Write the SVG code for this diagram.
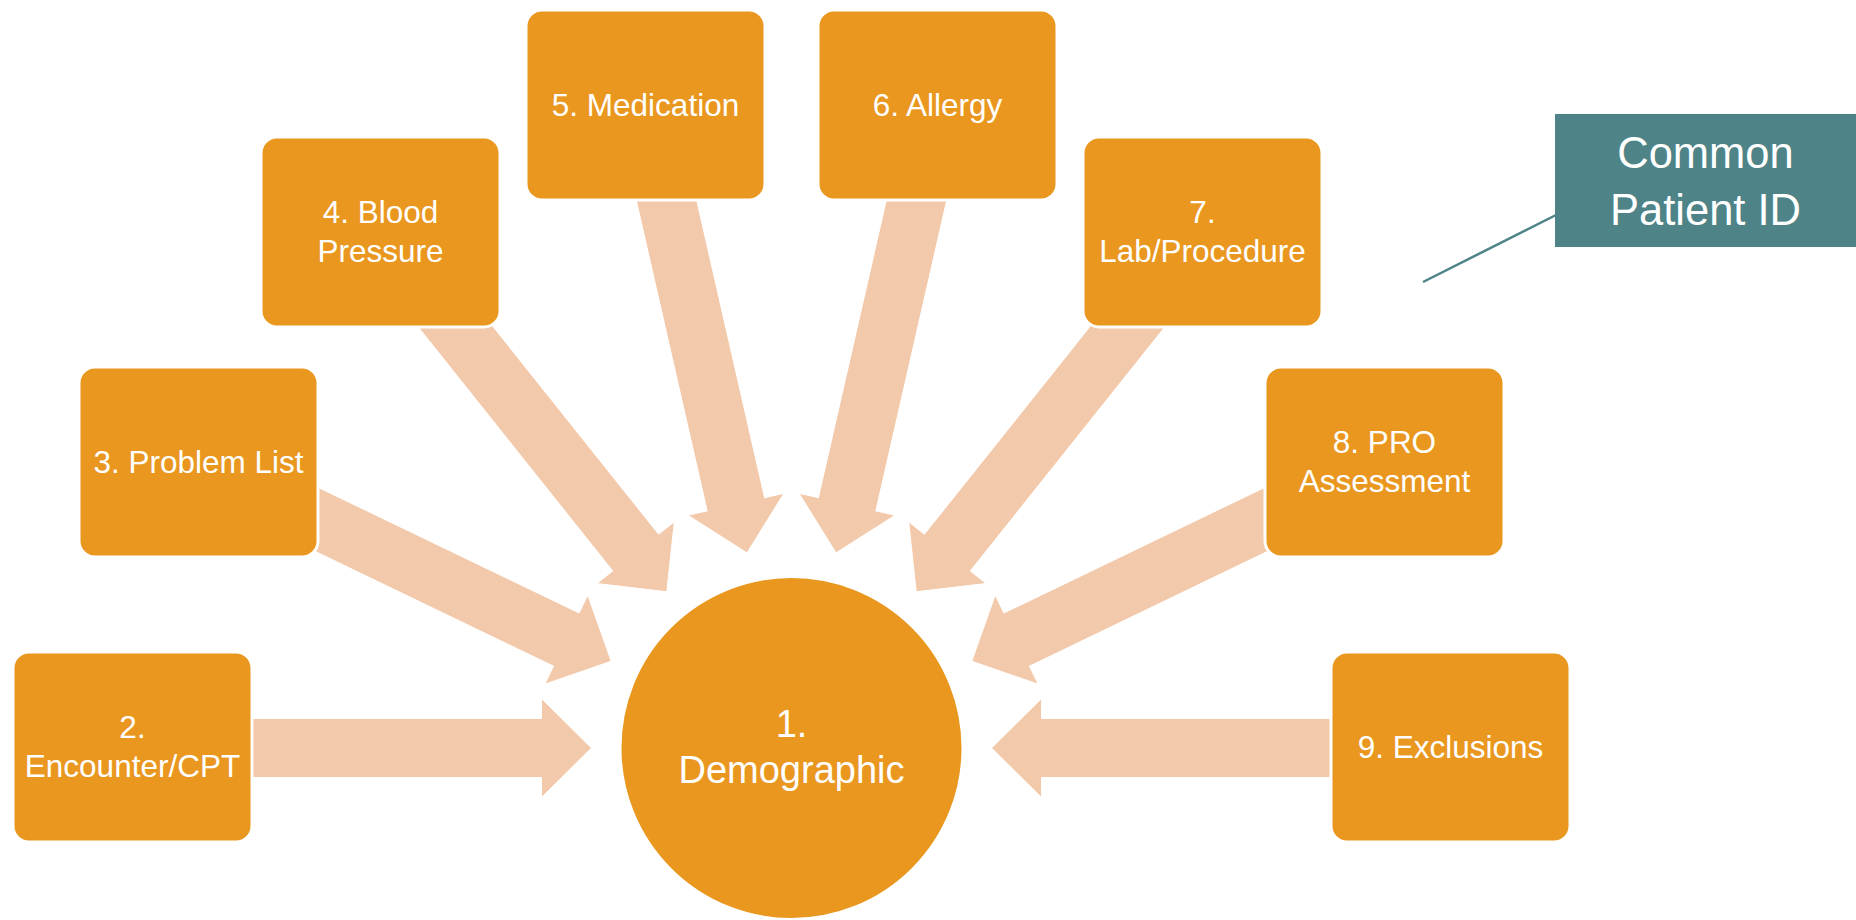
<svg xmlns="http://www.w3.org/2000/svg" width="1856" height="920" viewBox="0 0 1856 920">
  <style>
    .box { fill: #E9971F; stroke: #FFFFFF; stroke-width: 3; }
    .hub { fill: #E9971F; stroke: #FFFFFF; stroke-width: 2; }
    .arrow { fill: #F2C9AA; stroke: #FFFFFF; stroke-width: 1; }
    .lbl { font-family: "Liberation Sans", Arial, sans-serif; font-size: 31.5px; fill: #FFFFFF; text-anchor: middle; }
    .hubLbl { font-family: "Liberation Sans", Arial, sans-serif; font-size: 38px; fill: #FFFFFF; text-anchor: middle; }
    .callout { fill: #4E8387; }
    .calloutLbl { font-family: "Liberation Sans", Arial, sans-serif; font-size: 43.5px; fill: #FFFFFF; text-anchor: middle; }
  </style>
  <defs>
    <!-- block arrow pointing along +x with its tip at the origin; the tail tucks under the source box -->
    <polygon id="blockArrow" class="arrow" points="-375,-29.5 -50,-29.5 -50,-49.5 0,0 -50,49.5 -50,29.5 -375,29.5"/>
  </defs>
  <rect width="1856" height="920" fill="#FFFFFF"/>

  <!-- connectors: block arrows aimed at the hub, tips on a 200px ring -->
  <g id="connectors">
    <use href="#blockArrow" transform="translate(791.5,748) rotate(0) translate(-200,0)"/>
    <use href="#blockArrow" transform="translate(791.5,748) rotate(25.714) translate(-200,0)"/>
    <use href="#blockArrow" transform="translate(791.5,748) rotate(51.429) translate(-200,0)"/>
    <use href="#blockArrow" transform="translate(791.5,748) rotate(77.143) translate(-200,0)"/>
    <use href="#blockArrow" transform="translate(791.5,748) rotate(102.857) translate(-200,0)"/>
    <use href="#blockArrow" transform="translate(791.5,748) rotate(128.571) translate(-200,0)"/>
    <use href="#blockArrow" transform="translate(791.5,748) rotate(154.286) translate(-200,0)"/>
    <use href="#blockArrow" transform="translate(791.5,748) rotate(180) translate(-200,0)"/>
    <line x1="1423" y1="282" x2="1556" y2="215" stroke="#4E8387" stroke-width="2.5"/>
  </g>

  <g id="node1">
    <circle class="hub" cx="791.5" cy="748" r="171"/>
    <text class="hubLbl" x="791.5" y="737">1.</text>
    <text class="hubLbl" x="791.5" y="783">Demographic</text>
  </g>

  <g id="node2">
    <rect class="box" x="13" y="652" width="239" height="190" rx="16"/>
    <text class="lbl" x="132.5" y="738">2.</text>
    <text class="lbl" x="132.5" y="777">Encounter/CPT</text>
  </g>

  <g id="node3">
    <rect class="box" x="79" y="367" width="239" height="190" rx="16"/>
    <text class="lbl" x="198.5" y="473">3. Problem List</text>
  </g>

  <g id="node4">
    <rect class="box" x="261" y="137" width="239" height="190" rx="16"/>
    <text class="lbl" x="380.5" y="223">4. Blood</text>
    <text class="lbl" x="380.5" y="262">Pressure</text>
  </g>

  <g id="node5">
    <rect class="box" x="526" y="10" width="239" height="190" rx="16"/>
    <text class="lbl" x="645.5" y="116">5. Medication</text>
  </g>

  <g id="node6">
    <rect class="box" x="818" y="10" width="239" height="190" rx="16"/>
    <text class="lbl" x="937.5" y="116">6. Allergy</text>
  </g>

  <g id="node7">
    <rect class="box" x="1083" y="137" width="239" height="190" rx="16"/>
    <text class="lbl" x="1202.5" y="223">7.</text>
    <text class="lbl" x="1202.5" y="262">Lab/Procedure</text>
  </g>

  <g id="node8">
    <rect class="box" x="1265" y="367" width="239" height="190" rx="16"/>
    <text class="lbl" x="1384.5" y="453">8. PRO</text>
    <text class="lbl" x="1384.5" y="492">Assessment</text>
  </g>

  <g id="node9">
    <rect class="box" x="1331" y="652" width="239" height="190" rx="16"/>
    <text class="lbl" x="1450.5" y="758">9. Exclusions</text>
  </g>

  <g id="callout">
    <rect class="callout" x="1555" y="114" width="301" height="133"/>
    <text class="calloutLbl" x="1705.5" y="168">Common</text>
    <text class="calloutLbl" x="1705.5" y="225">Patient ID</text>
  </g>
</svg>
